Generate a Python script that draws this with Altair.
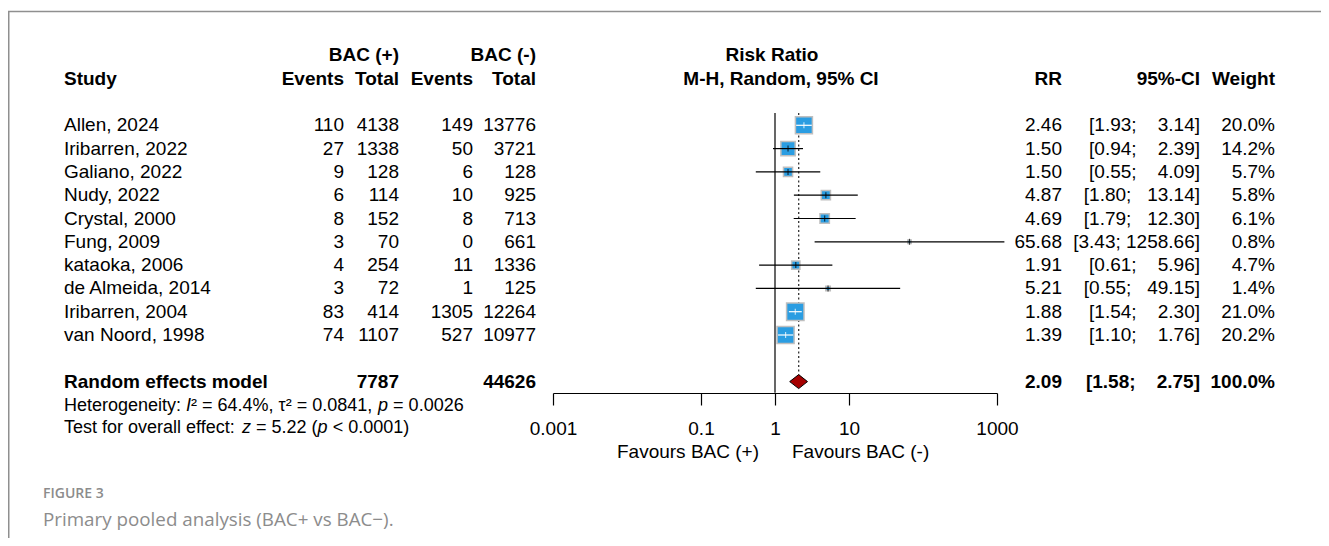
import math
import altair as alt
import pandas as pd

# ---------------- data ----------------
studies = ["Allen, 2024", "Iribarren, 2022", "Galiano, 2022", "Nudy, 2022", "Crystal, 2000",
           "Fung, 2009", "kataoka, 2006", "de Almeida, 2014", "Iribarren, 2004", "van Noord, 1998"]
ev_pos = [110, 27, 9, 6, 8, 3, 4, 3, 83, 74]
tot_pos = [4138, 1338, 128, 114, 152, 70, 254, 72, 414, 1107]
ev_neg = [149, 50, 6, 10, 8, 0, 11, 1, 1305, 527]
tot_neg = [13776, 3721, 128, 925, 713, 661, 1336, 125, 12264, 10977]
rr = [2.46, 1.50, 1.50, 4.87, 4.69, 65.68, 1.91, 5.21, 1.88, 1.39]
ci_lo = [1.93, 0.94, 0.55, 1.80, 1.79, 3.43, 0.61, 0.55, 1.54, 1.10]
ci_hi = [3.14, 2.39, 4.09, 13.14, 12.30, 1258.66, 5.96, 49.15, 2.30, 1.76]
weight = [20.0, 14.2, 5.7, 5.8, 6.1, 0.8, 4.7, 1.4, 21.0, 20.2]

pooled_tot_pos = 7787
pooled_tot_neg = 44626
pooled_rr = 2.09
pooled_lo = 1.58
pooled_hi = 2.75
pooled_w = 100.0

het_i2 = "64.4%"
het_tau2 = "0.0841"
het_p = "0.0026"
eff_z = "5.22"
eff_p = "< 0.0001"

axis_ticks = [0.001, 0.1, 1, 10, 1000]

# ---------------- layout / style ----------------
FONT = "Liberation Sans"
FS = 19
FS_HET = 18
W, H = 1313, 385
BLUE = "#2A9DE2"
BOX_EDGE = "#BFBFBF"
DIAMOND = "#A50000"

SIZE_K = 14.45          # px^2 of square per % weight
PX_PER_DEC = 444 / 6.0

YS = alt.Scale(domain=[1, 12], range=[117.3, 373.6])
XS = alt.Scale(type="log", domain=[0.001, 1000], range=[545, 989], nice=False)
AX = alt.Axis(values=axis_ticks, format="~g", tickSize=12, tickColor="black", tickWidth=1.2,
              domainColor="black", domainWidth=1.2, labelFont=FONT, labelFontSize=FS,
              labelColor="black", labelPadding=14, labelFlush=False, labelOverlap=False,
              labelBound=False, grid=False, title=None)


def X(field):
    return alt.X(f"{field}:Q", scale=XS, axis=AX)


def Y(field="r"):
    return alt.Y(f"{field}:Q", scale=YS, axis=None)


rows = list(range(1, len(studies) + 1))


def fmt_ci(lo, hi, width=7):
    hs = f"{hi:.2f}"
    pad = "\u00a0" * (width - len(hs))
    return f"[{lo:.2f};\u00a0{pad}{hs}]"


df = pd.DataFrame(dict(r=rows, study=studies, ev1=ev_pos, n1=tot_pos, ev2=ev_neg, n2=tot_neg,
                       rr=rr, lo=ci_lo, hi=ci_hi, w=weight))
for c in ["ev1", "n1", "ev2", "n2"]:
    df[c + "_t"] = df[c].astype(str)
df["rr_t"] = df["rr"].map(lambda v: f"{v:.2f}")
df["ci_t"] = [fmt_ci(a, b) for a, b in zip(ci_lo, ci_hi)]
df["w_t"] = df["w"].map(lambda v: f"{v:.1f}%")


def inside(row):
    half = math.sqrt(SIZE_K * row.w) / 2 / PX_PER_DEC
    c = math.log10(row.rr)
    return (c - math.log10(row.lo) <= half) and (math.log10(row.hi) - c <= half)


df["ci_col"] = ["white" if inside(r) else "black" for r in df.itertuples()]


def text_layer(data, field, x, align, bold=False, size=FS, style="normal", color="black",
               font=FONT, weight=None):
    fw = weight if weight is not None else ("bold" if bold else "normal")
    return alt.Chart(data).mark_text(
        align=align, baseline="middle", font=font, fontSize=size,
        fontWeight=fw, fontStyle=style, color=color
    ).encode(x=alt.value(x), y=Y(), text=f"{field}:N")


def label(txt, r, x, align, **kw):
    return text_layer(pd.DataFrame({"r": [r], "t": [txt]}), "t", x, align, **kw)


layers = []

# frame
layers.append(alt.Chart(pd.DataFrame({"a": [0]})).mark_rect(
    fillOpacity=0, stroke="#8f8f8f", strokeWidth=1.5).encode(
    x=alt.value(0.75), x2=alt.value(1500), y=alt.value(3.5), y2=alt.value(800)))

# headers
layers += [
    label("Study", -1, 56, "left", bold=True),
    label("BAC (+)", -2, 391, "right", bold=True),
    label("Events", -1, 336, "right", bold=True),
    label("Total", -1, 391, "right", bold=True),
    label("BAC (-)", -2, 528, "right", bold=True),
    label("Events", -1, 465, "right", bold=True),
    label("Total", -1, 528, "right", bold=True),
    label("Risk Ratio", -2, 764, "center", bold=True),
    label("M-H, Random, 95% CI", -1, 773, "center", bold=True),
    label("RR", -1, 1054, "right", bold=True),
    label("95%-CI", -1, 1192, "right", bold=True),
    label("Weight", -1, 1267, "right", bold=True),
]

# study rows text
layers += [
    text_layer(df, "study", 56, "left"),
    text_layer(df, "ev1_t", 336, "right"),
    text_layer(df, "n1_t", 391, "right"),
    text_layer(df, "ev2_t", 465, "right"),
    text_layer(df, "n2_t", 528, "right"),
    text_layer(df, "rr_t", 1054, "right"),
    text_layer(df, "ci_t", 1192, "right"),
    text_layer(df, "w_t", 1267, "right"),
]

# pooled row text
R_SUM = 12
layers += [
    label("Random effects model", R_SUM, 56, "left", bold=True),
    label(str(pooled_tot_pos), R_SUM, 391, "right", bold=True),
    label(str(pooled_tot_neg), R_SUM, 528, "right", bold=True),
    label(f"{pooled_rr:.2f}", R_SUM, 1054, "right", bold=True),
    label(fmt_ci(pooled_lo, pooled_hi), R_SUM, 1192, "right", bold=True),
    label(f"{pooled_w:.1f}%", R_SUM, 1267, "right", bold=True),
]

# heterogeneity / overall effect lines, with italic segments
AW = {' ': 278, 'H': 722, 'e': 556, 't': 278, 'r': 333, 'o': 556, 'g': 556, 'n': 556, 'i': 222,
      'y': 500, ':': 278, 'I': 278, '\u00b2': 333, '=': 584, '.': 278, '%': 889, ',': 278,
      '\u03c4': 440, 'p': 556, 'T': 611, 's': 500, 'f': 278, 'v': 500, 'a': 556, 'l': 222,
      'c': 500, 'z': 500, '(': 333, ')': 333, '<': 584}


def tw(s, fs):
    return sum(AW.get(ch, 556) for ch in s) / 1000.0 * fs


def segments(segs, r, x0, fs):
    out = []
    pos = 0.0
    for s, st in segs:
        stripped = s.lstrip(" ")
        lead = s[:len(s) - len(stripped)]
        out.append(label(stripped.rstrip(" "), r, x0 + pos + tw(lead, fs), "left", size=fs, style=st))
        pos += tw(s, fs)
    return out


layers += segments([("Heterogeneity: ", "normal"), ("I", "italic"),
                    (f"\u00b2 = {het_i2}, \u03c4\u00b2 = {het_tau2}, ", "normal"), ("p", "italic"),
                    (f" = {het_p}", "normal")], 13.05, 56, FS_HET)
layers += segments([("Test for overall effect: ", "normal"), ("z", "italic"),
                    (f" = {eff_z} (", "normal"), ("p", "italic"), (f" {eff_p})", "normal")],
                   14.0, 56, FS_HET)

# favours labels
layers += [
    label("Favours BAC (+)", 15.0, 751, "right"),
    label("Favours BAC (-)", 15.0, 784, "left"),
]

# caption
layers += [
    label("FIGURE 3", 16.82, 35, "left", size=14, color="#8c8c8c", font="Open Sans", weight=600),
    label("Primary pooled analysis (BAC+ vs BAC\u2212).", 17.94, 35, "left", size=18.8,
          color="#8c8c8c", font="Open Sans"),
]

# reference lines
ref = pd.DataFrame({"x": [1.0], "r": [0.47], "r2": [12.48]})
layers.append(alt.Chart(ref).mark_rule(color="black", strokeWidth=1.2).encode(
    x=X("x"), y=Y("r"), y2="r2:Q"))
pooled_line = pd.DataFrame({"x": [pooled_rr], "r": [0.47], "r2": [11.7]})
layers.append(alt.Chart(pooled_line).mark_rule(color="#333333", strokeWidth=1.3,
                                               strokeDash=[2, 2.5]).encode(
    x=X("x"), y=Y("r"), y2="r2:Q"))

# squares
layers.append(alt.Chart(df).mark_square(filled=True, fill=BLUE, stroke=BOX_EDGE, strokeWidth=1.5,
                                         opacity=1).encode(
    x=X("rr"), y=Y(),
    size=alt.Size("w:Q", scale=alt.Scale(domain=[0, 20], range=[0, 20 * SIZE_K]), legend=None)))

# CI lines
layers.append(alt.Chart(df).mark_rule(strokeWidth=1.2).encode(
    x=X("lo"), x2="hi:Q", y=Y(), color=alt.Color("ci_col:N", scale=None)))
layers.append(alt.Chart(df).mark_tick(orient="vertical", size=6, thickness=1.2).encode(
    x=X("rr"), y=Y(), color=alt.Color("ci_col:N", scale=None)))

# pooled diamond
diam = pd.DataFrame({"x": [pooled_lo, pooled_rr, pooled_hi],
                     "r": [R_SUM, R_SUM - 0.3, R_SUM], "r2": [R_SUM, R_SUM + 0.3, R_SUM]})
layers.append(alt.Chart(diam).mark_area(color=DIAMOND, stroke="black", strokeWidth=1,
                                        interpolate="linear", opacity=1).encode(
    x=X("x"), y=Y("r"), y2="r2:Q"))

chart = alt.layer(*layers).properties(
    width=W, height=H,
    autosize=alt.AutoSizeParams(type="none"),
    padding={"left": 0, "top": 0, "right": 0, "bottom": 145},
    background="white",
).configure_view(stroke=None)

chart.save("out.html", embed_options={"renderer": "svg", "actions": False})
